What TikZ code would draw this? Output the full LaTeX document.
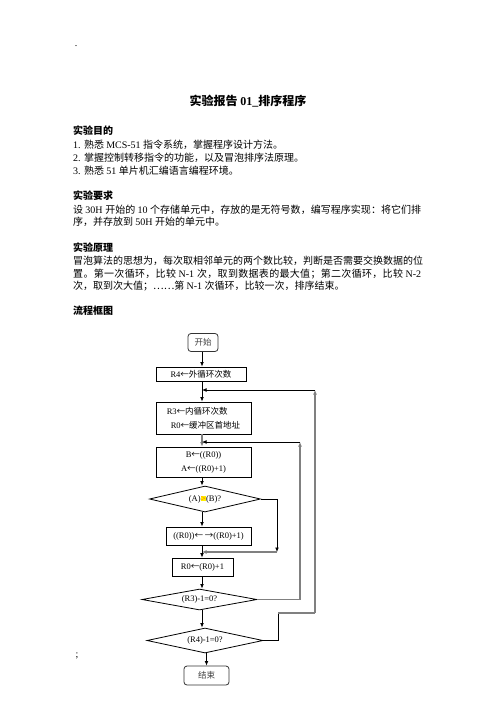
\documentclass[tikz,border=0pt]{standalone}
\usepackage{fontspec}
\setmainfont{Liberation Serif}
\newfontfamily\cjk{Noto Sans CJK SC}
\usetikzlibrary{shapes.geometric,arrows.meta}
\definecolor{lgray}{RGB}{128,128,128}
\definecolor{hl}{RGB}{255,240,0}

\XeTeXinterchartokenstate=1
\newXeTeXintercharclass\cjkcls
\newcount\cjkc
\def\setcjkrange#1#2{\cjkc=#1\relax\loop\XeTeXcharclass\cjkc=\cjkcls\advance\cjkc by 1\relax\ifnum\cjkc<#2\relax\repeat}
\setcjkrange{"4E00}{"A000}
\setcjkrange{"3000}{"3040}
\setcjkrange{"FF00}{"FFF0}
\setcjkrange{"2190}{"2200}
\XeTeXcharclass"2026=\cjkcls
\XeTeXinterchartoks 0 \cjkcls = {\cjk}
\XeTeXinterchartoks 4095 \cjkcls = {\cjk}
\XeTeXinterchartoks \cjkcls 0 = {\rmfamily}
\XeTeXinterchartoks 4095 0 = {\rmfamily}
\XeTeXinterchartoks \cjkcls \cjkcls = {\hskip 0pt plus 1pt\relax}

\tikzset{
  txt/.style={inner sep=0pt, anchor=west, font=\fontsize{10}{12}\selectfont},
  head/.style={txt, font=\fontsize{10}{12}\selectfont\bfseries},
  ln/.style={line width=0.8pt, black},
  gln/.style={line width=1.3pt, lgray},
  arr/.style={-{Latex[length=4.5pt,width=3.8pt]}},
  fbox/.style={draw, line width=0.8pt, inner sep=0pt, font=\fontsize{8.5}{14}\selectfont},
  rbox/.style={fbox, rounded corners=3pt, draw=black!80, text=black!75},
  dbox/.style={fbox, diamond, shape aspect=5},
}

\begin{document}
\begin{tikzpicture}[x=1pt,y=-1pt]
\fill[white] (0,0) rectangle (496,702);
\useasboundingbox (0,0) rectangle (496,702);

% header texts
\node[inner sep=0pt, anchor=base, font=\fontsize{10}{12}\selectfont] (dot) at (76,46.5) {.};
\node[inner sep=0pt, font=\fontsize{12}{14}\selectfont\bfseries] (title) at (248,101) {实验报告 01\_排序程序};

\node[head] (h1) at (73,131) {实验目的};
\node[txt] (l1) at (73,144.5) {1. 熟悉 MCS-51 指令系统，掌握程序设计方法。};
\node[txt] (l2) at (73,157.5) {2. 掌握控制转移指令的功能，以及冒泡排序法原理。};
\node[txt] (l3) at (73,170.5) {3. 熟悉 51 单片机汇编语言编程环境。};

\node[head] (h2) at (73,196) {实验要求};
\node[txt] (l4) at (73,209.5) {\makebox[348pt][s]{设 30H 开始的 10 个存储单元中，存放的是无符号数，编写程序实现：将它们排}};
\node[txt] (l5) at (73,222) {序，并存放到 50H 开始的单元中。};

\node[head] (h3) at (73,247.5) {实验原理};
\node[txt] (l6) at (73,261) {\makebox[348pt][s]{冒泡算法的思想为，每次取相邻单元的两个数比较，判断是否需要交换数据的位}};
\node[txt] (l7) at (73,274) {\makebox[348pt][s]{置。第一次循环，比较 N-1 次，取到数据表的最大值；第二次循环，比较 N-2}};
\node[txt] (l8) at (73,286.5) {次，取到次大值；……第 N-1 次循环，比较一次，排序结束。};

\node[head] (h4) at (73,311) {流程框图};

\node[inner sep=0pt, anchor=base, font=\fontsize{10}{12}\selectfont] (semi) at (77,657.5) {;};

% flowchart
\coordinate (mx) at (202,0);
\node[rbox, minimum width=30pt, minimum height=18pt] (start) at (203,342.5) {开始};
\node[fbox, minimum width=90pt, minimum height=14pt] (r4) at (201,374) {R4←外循环次数};
\node[fbox, minimum width=95pt, minimum height=32pt, align=left] (r3) at (203.5,418) {R3←内循环次数\\\hspace*{4pt}R0←缓冲区首地址};
\node[fbox, minimum width=95pt, minimum height=30pt, align=center] (bx) at (203.5,462) {B←((R0))\\A←((R0)+1)};
\node[dbox, minimum width=111pt, minimum height=26pt] (d1) at (205,499) {(A){\fboxsep=0.3pt\colorbox{hl}{\textcolor{orange!70!red}{>}}}(B)?};
\node[fbox, minimum width=85pt, minimum height=18pt] (sw) at (208.5,536) {((R0))← →((R0)+1)};
\node[fbox, minimum width=61pt, minimum height=18pt] (r0) at (202.5,567) {R0←(R0)+1};
\node[dbox, minimum width=115pt, minimum height=21pt] (d2) at (199.5,599.5) {(R3)-1=0?};
\node[dbox, minimum width=116pt, minimum height=25pt] (d3) at (205,640.5) {(R4)-1=0?};
\node[rbox, minimum width=45pt, minimum height=19pt] (stop) at (206.5,675.5) {结束};

% junctions and corners
\coordinate (j1) at (202,390);
\coordinate (j2) at (202,442);
\coordinate (j3) at (202,552);
\coordinate (c1) at (315,390);
\coordinate (c2) at (300,442);
\coordinate (c3) at (277,552);
\coordinate (k1) at (278,613);
\coordinate (k2) at (315,613);

% main flow
\draw[ln,arr] (start.south -| mx) -- (r4.north -| mx);
\draw[ln,arr] (r4.south -| mx) -- (r3.north -| mx);
\draw[gln,arr] (r3.south -| mx) -- (bx.north -| mx);
\draw[ln,arr] (bx.south -| mx) -- (d1.north -| mx);
\draw[ln,arr] (d1.south -| mx) -- (sw.north -| mx);
\draw[ln,arr] (sw.south -| mx) -- (r0.north -| mx);
\draw[ln,arr] (r0.south -| mx) -- (d2.north -| mx);
\draw[ln,arr] (d2.south -| mx) -- (d3.north -| mx);
\draw[ln,arr] (d3.south -| stop) -- (stop.north);

% bypass of the swap
\draw[ln,arr] (d1.east) -| (c3);
\draw[gln,arr] (c3) -- (j3);
% inner loop
\draw[gln,arr] (d2.east) -| (c2);
\draw[ln,arr] (c2) -- (j2);
% outer loop
\draw[ln] (d3.east) -| (k1);
\draw[gln] (k1) -- (k2);
\draw[gln,arr] (k2) -- (c1);
\draw[ln,arr] (c1) -- (j1);
\end{tikzpicture}
\end{document}
